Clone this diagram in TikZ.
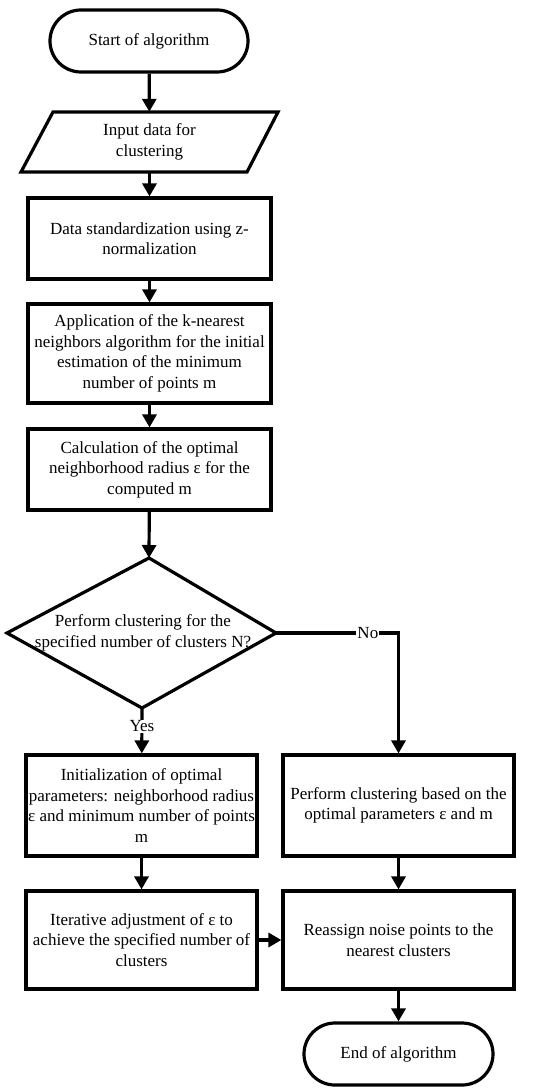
\documentclass[tikz,border=0pt]{standalone}
\usepackage{fontspec}
\setmainfont{Liberation Serif}
\usetikzlibrary{arrows.meta}
\begin{document}
\begin{tikzpicture}[x=1pt,y=-1pt,
  every node/.style={font=\fontsize{17}{20.5}\selectfont, align=center, inner sep=0pt},
  line/.style={line width=3.2pt, line join=miter},
  boxnode/.style={draw, line width=3.2pt, rectangle, minimum width=243pt},
  termnode/.style={draw, line width=3.2pt, rectangle, rounded corners=31pt, minimum height=62pt},
  arr/.style={line width=3.2pt, -{Triangle[width=14pt,length=13pt]}},
  lbl/.style={fill=white, inner sep=1pt}]
\useasboundingbox (0,0) rectangle (550,1091);
% top column
\node[termnode, minimum width=198pt] (start) at (149,41) {Start of algorithm};
\node[minimum width=225pt, minimum height=60pt] (input) at (149.5,142) {Input data for\\clustering};
\coordinate (ptl) at (53,112);
\coordinate (ptr) at (278,112);
\coordinate (pbr) at (247,172);
\coordinate (pbl) at (21,172);
\draw[line] (ptl) -- (ptr) -- (pbr) -- (pbl) -- cycle;
\node[boxnode, minimum height=81pt] (data) at (149.5,238.5) {Data standardization using z-\\normalization};
\node[boxnode, minimum height=99pt] (app) at (149.5,353.5) {Application of the k-nearest\\neighbors algorithm for the initial\\estimation of the minimum\\number of points m};
\node[boxnode, minimum height=81pt] (calc) at (149.5,469.5) {Calculation of the optimal\\neighborhood radius ε for the\\computed m};
% decision
\coordinate (dtop) at (149,558);
\coordinate (dleft) at (7,633);
\coordinate (dright) at (276,633);
\coordinate (dbot) at (142,708);
\draw[line] (dtop) -- (dright) -- (dbot) -- (dleft) -- cycle;
\node (dec) at (143,633) {Perform clustering for the\\specified number of clusters N?};
% lower boxes
\node[boxnode, minimum width=231pt, minimum height=101pt] (init) at (141.5,805.5) {Initialization of optimal\\parameters: neighborhood radius\\ε and minimum number of points\\m};
\node[boxnode, minimum width=231pt, minimum height=101pt] (perf) at (398.5,805.5) {Perform clustering based on the\\optimal parameters ε and m};
\node[boxnode, minimum width=231pt, minimum height=98pt] (iter) at (141.5,940) {Iterative adjustment of ε to\\achieve the specified number of\\clusters};
\node[boxnode, minimum width=231pt, minimum height=98pt] (reas) at (398.5,940) {Reassign noise points to the\\nearest clusters};
\node[termnode, minimum width=189pt] (end) at (398.5,1054) {End of algorithm};
\coordinate (corner) at (398.5,633);
% connectors
\draw[arr] (start) -- (input);
\draw[arr] (input.south) -- (data);
\draw[arr] (data) -- (app);
\draw[arr] (app) -- (calc);
\draw[arr] (calc) -- (dtop);
\draw[arr] (dbot) -- node[lbl, pos=0.4] {Yes} (init);
\draw[arr] (dright) -- node[lbl, pos=0.75] {No} (corner) -- (perf);
\draw[arr] (init) -- (iter);
\draw[arr] (perf) -- (reas);
\draw[arr] (iter) -- (reas);
\draw[arr] (reas) -- (end);
\end{tikzpicture}
\end{document}
